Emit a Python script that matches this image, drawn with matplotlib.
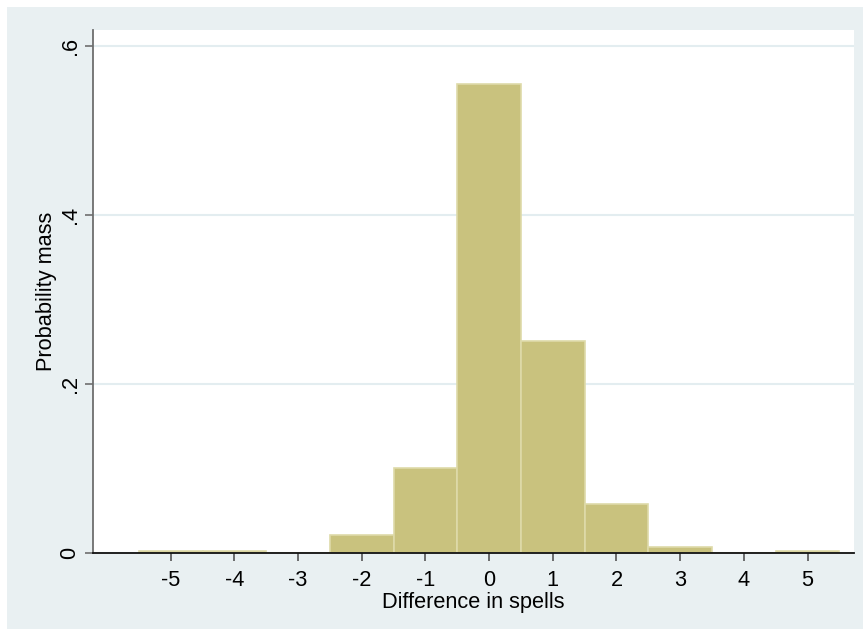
import matplotlib
matplotlib.use("Agg")
import matplotlib.pyplot as plt
from matplotlib.patches import Rectangle

# Histogram of the difference in number of spells (unit-width bins)
diff_values = [-5, -4, -3, -2, -1, 0, 1, 2, 3, 4, 5]
prob_mass = [0.002, 0.002, 0.0, 0.021, 0.100, 0.555, 0.250, 0.058, 0.006, 0.0, 0.002]
x_ticks = [-5, -4, -3, -2, -1, 0, 1, 2, 3, 4, 5]
y_ticks = [0, 0.2, 0.4, 0.6]
y_tick_labels = ["0", ".2", ".4", ".6"]

plt.rcParams["font.family"] = ["Liberation Sans", "DejaVu Sans"]
FS = 15.7

W, H = 865, 629
fig = plt.figure(figsize=(W / 100, H / 100), dpi=100, facecolor="white")

# light graph region behind the plot
bg_color = "#e9f0f2"
fig.patches.append(Rectangle((7 / W, 0), (863 - 7) / W, (H - 7) / H,
                             transform=fig.transFigure, facecolor=bg_color,
                             edgecolor="none", zorder=-10))

left, right, top, bottom = 93, 854, 30, 552.5
ax = fig.add_axes([left / W, 1 - bottom / H, (right - left) / W, (bottom - top) / H])
ax.set_zorder(5)
ax.set_facecolor("white")

ax.bar(diff_values, prob_mass, width=1.0, align="center",
       color="#c9c27e", edgecolor="#dedaa9", linewidth=1.2, zorder=2)

ax.set_xlim(-6.22, 5.73)
ax.set_ylim(0, 0.619)

ax.set_yticks(y_ticks)
ax.set_yticklabels(y_tick_labels, rotation=90, va="center")
ax.set_xticks(x_ticks)
ax.set_xticklabels([str(v) for v in x_ticks])

ax.yaxis.grid(True, color="#e3edf0", linewidth=1.5, zorder=0)
ax.set_axisbelow(True)

for side in ("top", "right"):
    ax.spines[side].set_visible(False)
ax.spines["left"].set_color("#6e6e6e")
ax.spines["left"].set_linewidth(1.3)
ax.spines["bottom"].set_color("#111111")
ax.spines["bottom"].set_linewidth(1.3)
for sp in ax.spines.values():
    sp.set_zorder(4)

ax.tick_params(axis="y", direction="out", length=6, width=1.2, color="#6e6e6e",
               labelsize=FS, pad=3)
ax.tick_params(axis="x", direction="out", length=6, width=1.2, color="#555555",
               labelsize=FS, pad=6.5)

ax.set_xlabel("Difference in spells", fontsize=FS, labelpad=0.5)
ax.set_ylabel("Probability mass", fontsize=FS, labelpad=2)

fig.savefig("out.png", dpi=100, facecolor="white")
